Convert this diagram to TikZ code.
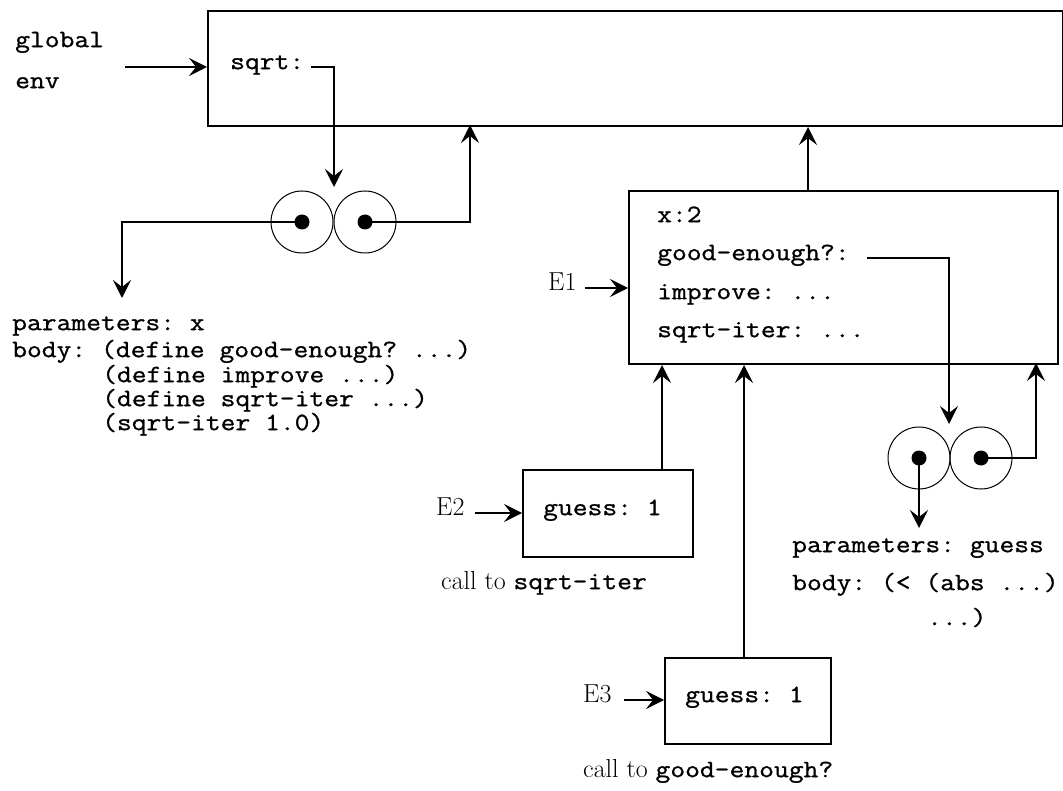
\documentclass[tikz,border=0pt]{standalone}
\usepackage{fontspec}
\setmonofont[FakeStretch=1.15, FakeBold=1]{Latin Modern Mono}
\usepackage{tikz}
\usetikzlibrary{arrows.meta}
\newcommand{\ttcode}{\ttfamily\fontsize{25}{27}\selectfont}
\newcommand{\rmlab}{\rmfamily\fontsize{26}{28}\selectfont}
\tikzset{
  envbox/.style={draw, line width=2pt, inner sep=0pt, anchor=north west},
  codetext/.style={font=\ttcode, inner sep=0pt, anchor=mid west},
  lab/.style={font=\rmlab, inner sep=0pt, anchor=mid west},
  cell/.style={circle, draw, line width=1pt, minimum size=62pt, inner sep=0pt},
  ptrdot/.style={circle, fill, minimum size=15pt, inner sep=0pt},
  ptr/.style={line width=1.8pt, -{Stealth[length=18pt, width=18pt, inset=7pt]}}
}

\begin{document}
\begin{tikzpicture}[x=1pt, y=-1pt]
    \useasboundingbox (0,0) rectangle (1063,791);

    % 全局环境
    \node[envbox, minimum width=855pt, minimum height=115pt] (gframe) at (207,10) {};
    \node[codetext] (globallab) at (15,45) {global};
    \node[codetext] (envlab) at (15,86) {env};
    \node[codetext] (sqrtname) at (230,67) {sqrt:};

    % sqrt 的过程对象
    \node[cell] (sqrtL) at (302,222) {};
    \node[cell] (sqrtR) at (365,222) {};
    \node[ptrdot] (sqrtLdot) at (sqrtL) {};
    \node[ptrdot] (sqrtRdot) at (sqrtR) {};
    \node[codetext] (sqrtpar) at (12,328) {parameters: x};
    \node[codetext] (sqrtbody) at (12,355) {body: (define good-enough? ...)};
    \node[codetext] (sqrtbody2) at (102,380) {(define improve ...)};
    \node[codetext] (sqrtbody3) at (102,404) {(define sqrt-iter ...)};
    \node[codetext] (sqrtbody4) at (102,428) {(sqrt-iter 1.0)};

    % 环境 E1
    \node[envbox, minimum width=429pt, minimum height=173pt] (e1frame) at (628,190) {};
    \node[codetext] (e1x) at (657,220) {x:2};
    \node[codetext] (e1ge) at (657,258) {good-enough?:};
    \node[codetext] (e1imp) at (657,297) {improve: ...};
    \node[codetext] (e1iter) at (657,335) {sqrt-iter: ...};
    \node[lab] (e1lab) at (548,288) {E1};

    % good-enough? 的过程对象
    \node[cell] (geL) at (919,458) {};
    \node[cell] (geR) at (981,458) {};
    \node[ptrdot] (geLdot) at (geL) {};
    \node[ptrdot] (geRdot) at (geR) {};
    \node[codetext] (gepar) at (792,550) {parameters: guess};
    \node[codetext] (gebody) at (792,588) {body: (< (abs ...)};
    \node[codetext] (gebody2) at (927,623) {...)};

    % 环境 E2, E3
    \node[envbox, minimum width=170pt, minimum height=87pt] (e2frame) at (522,469) {};
    \node[codetext] (e2guess) at (543,513) {guess: 1};
    \node[lab] (e2lab) at (436,513) {E2};
    \node[lab] (e2call) at (441,587) {call to {\ttcode sqrt-iter}};
    \node[envbox, minimum width=166pt, minimum height=86pt] (e3frame) at (664,657) {};
    \node[codetext] (e3guess) at (685,700) {guess: 1};
    \node[lab] (e3lab) at (583,700) {E3};
    \node[lab] (e3call) at (583,775) {call to {\ttcode good-enough?}};

    % 指针的端点
    \coordinate (globalout) at (125,67);
    \coordinate (sqrtin) at (334,187);
    \coordinate (sqrtparin) at (122,298);
    \coordinate (sqrtenv) at (470,125);
    \coordinate (e1up) at (808,0);
    \coordinate (gein) at (949,424);
    \coordinate (geparin) at (919,528);
    \coordinate (geenv) at (1036,363);
    \coordinate (e2up) at (662,0);
    \coordinate (e3up) at (744,0);

    % 指针
    \draw[ptr] (globalout) -- (globalout -| gframe.west);
    \draw[ptr] ([xshift=7pt]sqrtname.mid east) -| (sqrtin);
    \draw[ptr] (sqrtL.center) -| (sqrtparin);
    \draw[ptr] (sqrtR.center) -| (sqrtenv);
    \draw[ptr] (e1frame.north -| e1up) -- (gframe.south -| e1up);
    \draw[ptr] ([xshift=8pt]e1lab.mid east) -- (e1lab.mid east -| e1frame.west);
    \draw[ptr] ([xshift=17pt]e1ge.mid east) -| (gein);
    \draw[ptr] (geL.center) -- (geparin);
    \draw[ptr] (geR.center) -| (geenv);
    \draw[ptr] (e2frame.north -| e2up) -- (e1frame.south -| e2up);
    \draw[ptr] (e3frame.north -| e3up) -- (e1frame.south -| e3up);
    \draw[ptr] ([xshift=10pt]e2lab.mid east) -- (e2lab.mid east -| e2frame.west);
    \draw[ptr] ([xshift=12pt]e3lab.mid east) -- (e3lab.mid east -| e3frame.west);
\end{tikzpicture}
\end{document}
